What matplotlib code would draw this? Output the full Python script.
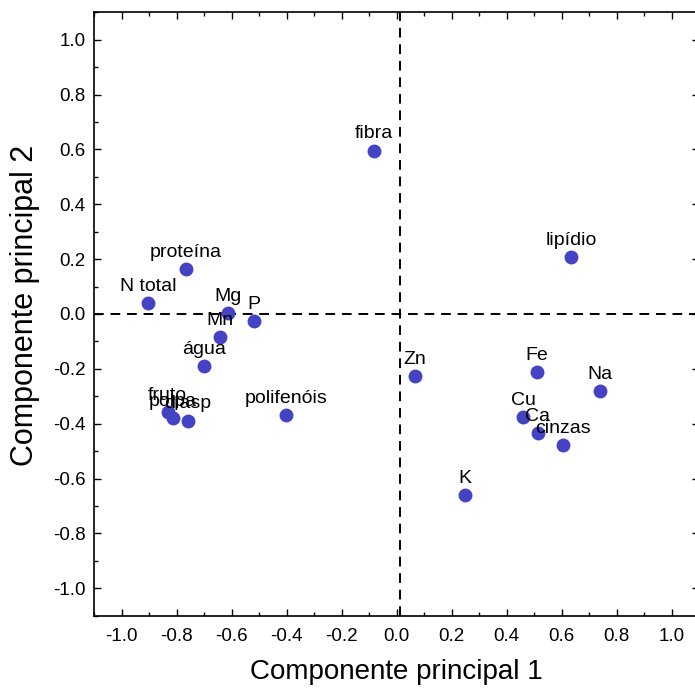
import matplotlib
matplotlib.use("Agg")
import matplotlib.pyplot as plt
from matplotlib.ticker import MultipleLocator, FormatStrFormatter

plt.rcParams['font.family'] = ['Liberation Sans', 'DejaVu Sans']

labels = ["fibra", "lipídio", "proteína", "N total", "Mg", "P", "Mn", "água",
          "fruto", "polpa", "diasp", "polifenóis", "Zn", "Fe", "Na", "Cu",
          "Ca", "cinzas", "K"]
pc1 = [-0.083, 0.634, -0.766, -0.904, -0.613, -0.519, -0.643, -0.700,
       -0.832, -0.813, -0.759, -0.403, 0.067, 0.510, 0.739, 0.460,
       0.514, 0.605, 0.248]
pc2 = [0.596, 0.206, 0.163, 0.039, 0.003, -0.027, -0.085, -0.190,
       -0.358, -0.380, -0.390, -0.369, -0.227, -0.212, -0.281, -0.376,
       -0.435, -0.478, -0.660]

fig = plt.figure(figsize=(6.95, 6.88), dpi=100)
ax = fig.add_axes([94/695, 1-615.7/688, (699-94)/695, (615.7-12.3)/688])

ax.axhline(0, color='black', lw=1.4, ls=(0, (5, 3.5)), zorder=1)
ax.axvline(0.013, color='black', lw=1.4, ls=(0, (5, 3.5)), zorder=1)

ax.scatter(pc1, pc2, s=100, color='#4343c4', zorder=3, linewidths=0)
for lab, x, y in zip(labels, pc1, pc2):
    ax.annotate(lab, (x, y), xytext=(0, 9), textcoords='offset points',
                ha='center', va='baseline', fontsize=14, color='black', zorder=4)

ax.set_xlim(-1.1, 1.1)
ax.set_ylim(-1.1, 1.1)
ax.xaxis.set_major_locator(MultipleLocator(0.2))
ax.xaxis.set_minor_locator(MultipleLocator(0.1))
ax.yaxis.set_major_locator(MultipleLocator(0.2))
ax.yaxis.set_minor_locator(MultipleLocator(0.1))
ax.xaxis.set_major_formatter(FormatStrFormatter('%.1f'))
ax.yaxis.set_major_formatter(FormatStrFormatter('%.1f'))
ax.tick_params(which='both', direction='in', top=True, right=True, labelsize=13.5)
ax.tick_params(which='major', length=5, width=1)
ax.tick_params(which='minor', length=3, width=1)
ax.tick_params(axis='x', pad=9)
ax.tick_params(axis='y', pad=6)
for sp in ax.spines.values():
    sp.set_linewidth(1.2)

ax.set_xlabel("Componente principal 1", fontsize=20, labelpad=10)
ax.set_ylabel("Componente principal 2", fontsize=22, labelpad=8)
ax.yaxis.set_label_coords(-0.09, 0.515)

fig.savefig("out.png", dpi=100)
